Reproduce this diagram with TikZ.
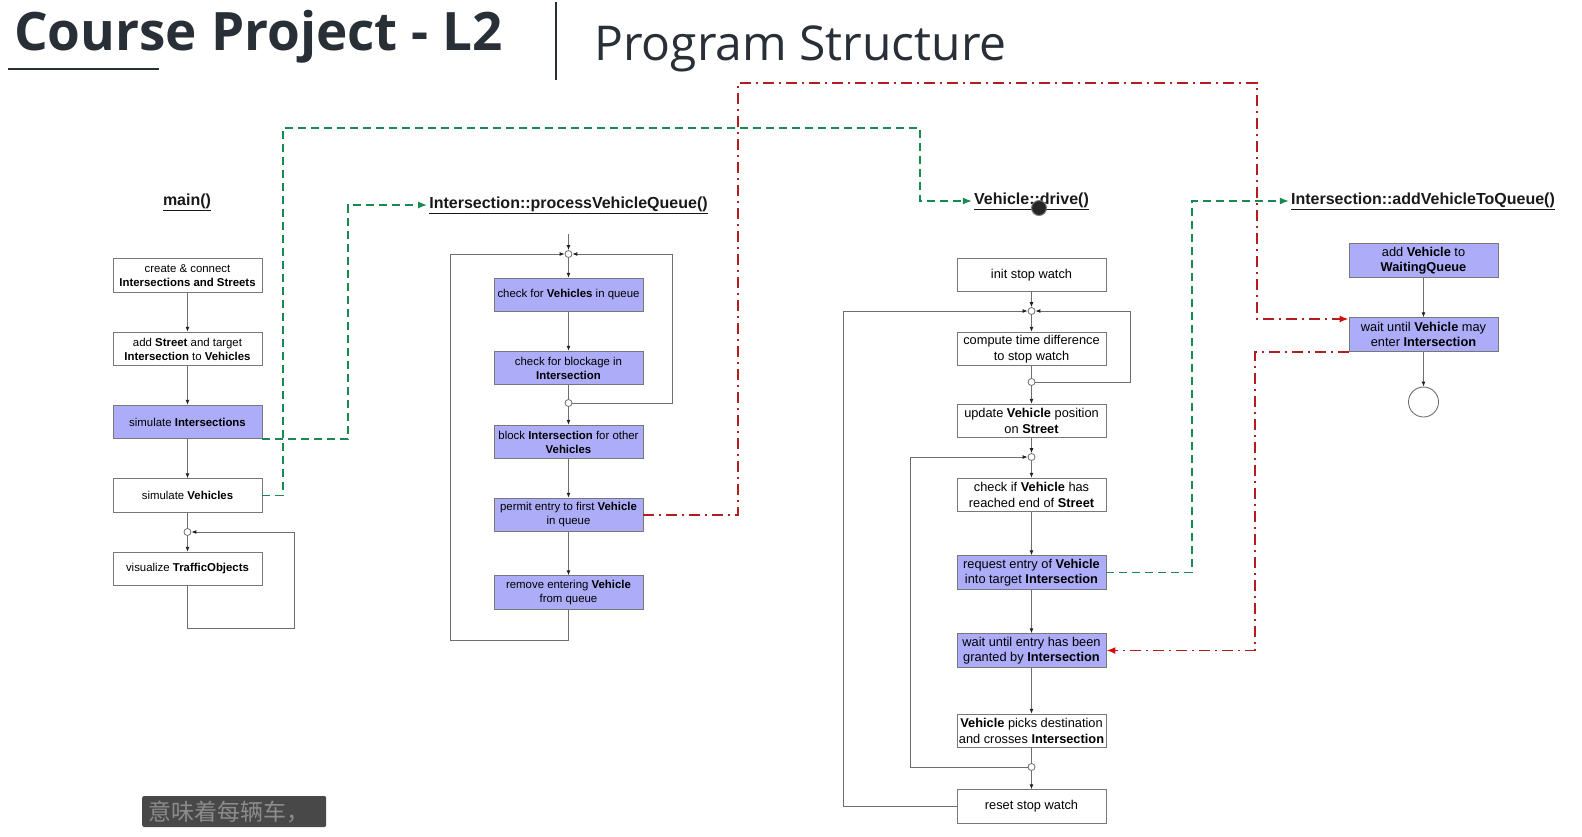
\documentclass[tikz,border=0pt]{standalone}
\usepackage{fontspec}
\setmainfont{Liberation Sans}
\newfontfamily\titlefont{Open Sans}
\newfontfamily\cjkfont{Noto Sans CJK SC}
\usetikzlibrary{arrows.meta}
\definecolor{boxlav}{RGB}{172,172,248}
\definecolor{boxgray}{RGB}{120,120,120}
\definecolor{linegray}{RGB}{110,110,110}
\definecolor{tipgray}{RGB}{30,30,30}
\definecolor{callgreen}{RGB}{22,138,80}
\definecolor{grantred}{RGB}{178,30,30}
\definecolor{tipred}{RGB}{215,10,10}
\definecolor{titledark}{RGB}{40,47,54}
\definecolor{subgray}{RGB}{72,72,72}
\definecolor{subtext}{RGB}{140,140,140}
\begin{document}
\begin{tikzpicture}[x=1pt,y=-1pt,
    box/.style={draw=boxgray, line width=0.9pt, minimum width=149pt, minimum height=33.5pt, inner sep=1pt, align=center, font=\fontsize{11.4}{14}\selectfont},
    bigbox/.style={box, font=\fontsize{12.8}{15.5}\selectfont},
    lav/.style={fill=boxlav},
    hd/.style={font=\fontsize{16}{18}\selectfont\bfseries, inner sep=2pt, text=black!90},
    jn/.style={circle, draw=linegray, fill=white, line width=0.8pt, inner sep=0pt, minimum size=7pt},
    flow/.style={draw=linegray, line width=0.9pt, -{Latex[length=5pt,width=4pt,color=tipgray]}},
    plain/.style={draw=linegray, line width=0.9pt},
    call/.style={draw=callgreen, line width=1.6pt, dash pattern=on 8pt off 5pt, -{Latex[length=9pt,width=7pt]}},
    grant/.style={draw=grantred, line width=1.6pt, dash pattern=on 11pt off 5pt on 2pt off 5pt, -{Latex[length=9pt,width=7pt,color=tipred]}}]

      \useasboundingbox (0,0) rectangle (1582,836);

	\node[anchor=base west, inner sep=0, font=\titlefont\bfseries\fontsize{53}{58}\selectfont, text=titledark] (title) at (14,50) {Course Project - L2};
	\node[anchor=base west, inner sep=0, font=\titlefont\fontsize{48}{54}\selectfont, text=titledark] (topic) at (594,60) {Program Structure};
	\draw[titledark, line width=2pt] (8,69) -- (159,69);
	\draw[titledark, line width=1.3pt] (556,2) -- (556,80);

	\node[hd] (h1) at (187,202) {\underline{main()}};
	\node[hd] (h2) at (568.5,205) {\underline{Intersection::processVehicleQueue()}};
	\node[hd] (h3) at (1031.5,201) {\underline{Vehicle::drive()}};
	\node[hd] (h4) at (1423,201) {\underline{Intersection::addVehicleToQueue()}};

	\node[box] (m1) at (187.5,275.5) {create \& connect\\\textbf{Intersections and Streets}};
	\node[box] (m2) at (187.5,349) {add \textbf{Street} and target\\\textbf{Intersection} to \textbf{Vehicles}};
	\node[box,lav] (m3) at (187.5,422) {simulate \textbf{Intersections}};
	\node[box] (m4) at (187.5,495.5) {simulate \textbf{Vehicles}};
	\node[jn] (j0) at (187.5,532) {};
	\node[box] (m5) at (187.5,569) {visualize \textbf{TrafficObjects}};

	\coordinate (pstart) at (568.5,234);
	\node[jn] (j1) at (568.5,254) {};
	\node[box,lav] (p1) at (568.5,295) {check for \textbf{Vehicles} in queue};
	\node[box,lav] (p2) at (568.5,368) {check for blockage in\\\textbf{Intersection}};
	\node[jn] (j2) at (568.5,403) {};
	\node[box,lav] (p3) at (568.5,442) {block \textbf{Intersection} for other\\\textbf{Vehicles}};
	\node[box,lav] (p4) at (568.5,515) {permit entry to first \textbf{Vehicle}\\in queue};
	\node[box,lav] (p5) at (568.5,592.5) {remove entering \textbf{Vehicle}\\from queue};

	\node[bigbox] (d1) at (1031.5,275) {init stop watch};
	\node[jn] (j3) at (1031.5,311) {};
	\node[bigbox] (d2) at (1031.5,349) {compute time difference\\to stop watch};
	\node[jn] (j4) at (1031.5,382) {};
	\node[bigbox] (d3) at (1031.5,421) {update \textbf{Vehicle} position\\on \textbf{Street}};
	\node[jn] (j5) at (1031.5,457) {};
	\node[bigbox] (d4) at (1031.5,495) {check if \textbf{Vehicle} has\\reached end of \textbf{Street}};
	\node[bigbox,lav] (d5) at (1031.5,572.5) {request entry of \textbf{Vehicle}\\into target \textbf{Intersection}};
	\node[bigbox,lav] (d6) at (1031.5,650.5) {wait until entry has been\\granted by \textbf{Intersection}};
	\node[bigbox] (d7) at (1031.5,731) {\textbf{Vehicle} picks destination\\and crosses \textbf{Intersection}};
	\node[jn] (j6) at (1031.5,767) {};
	\node[bigbox] (d8) at (1031.5,806.5) {reset stop watch};

	\node[bigbox,lav] (a1) at (1423.5,260.5) {add \textbf{Vehicle} to\\\textbf{WaitingQueue}};
	\node[bigbox,lav] (a2) at (1423.5,334.5) {wait until \textbf{Vehicle} may\\enter \textbf{Intersection}};
	\node[circle, draw=linegray, line width=0.9pt, minimum size=30pt, inner sep=0] (e1) at (1423.5,402) {};

	\foreach \a/\b in {m1/m2,m2/m3,m3/m4,j0/m5,pstart/j1,j1/p1,p1/p2,j2/p3,p3/p4,p4/p5,d1/j3,j3/d2,j4/d3,d3/j5,j5/d4,d4/d5,d5/d6,d6/d7,j6/d8,a1/a2,a2/e1}{
   	   \draw[flow] (\a) -- (\b);
  	}
	\foreach \a/\b in {m4/j0,p2/j2,d2/j4,d7/j6}{
   	   \draw[plain] (\a) -- (\b);
  	}

	\draw[flow] (m5.south) -- ++(0,42) -| (294,532) -- (j0);
	\draw[flow] (p5.south) -- ++(0,31) -| (450,254) -- (j1);
	\draw[flow] (j2) -- (672,403) -- (672,254) -- (j1);
	\draw[flow] (j4) -- (1130,382) -- (1130,311) -- (j3);
	\draw[flow] (d8.west) -| (843,311) -- (j3);
	\draw[flow] (j6) -- (910,767) -- (910,457) -- (j5);

	\draw[call] (m3.south east) -| (348,205) -- (h2.west);
	\draw[call] (m4.east) -- (283,495.5) |- (920,128) |- (h3.west);
	\draw[call] (d5.east) -| (1192,201) -- (h4.west);

	\draw[grant] (p4.east) -| (738,83) -| (1257,319) -- (a2.west |- 0,319);
	\draw[grant] (a2.south west) -| (1255,650.5) -- (d6.east);

	\fill[black!85, draw=gray, line width=1pt] (1039,208) circle [radius=7.5];

	\node[fill=subgray, rounded corners=2pt, anchor=west, inner xsep=6pt, inner ysep=0pt, minimum height=31pt, text width=172pt, align=left, text=subtext, font=\cjkfont\fontsize{23}{25}\selectfont] (cap) at (142,811.5) {意味着每辆车，};
    \end{tikzpicture}
\end{document}
